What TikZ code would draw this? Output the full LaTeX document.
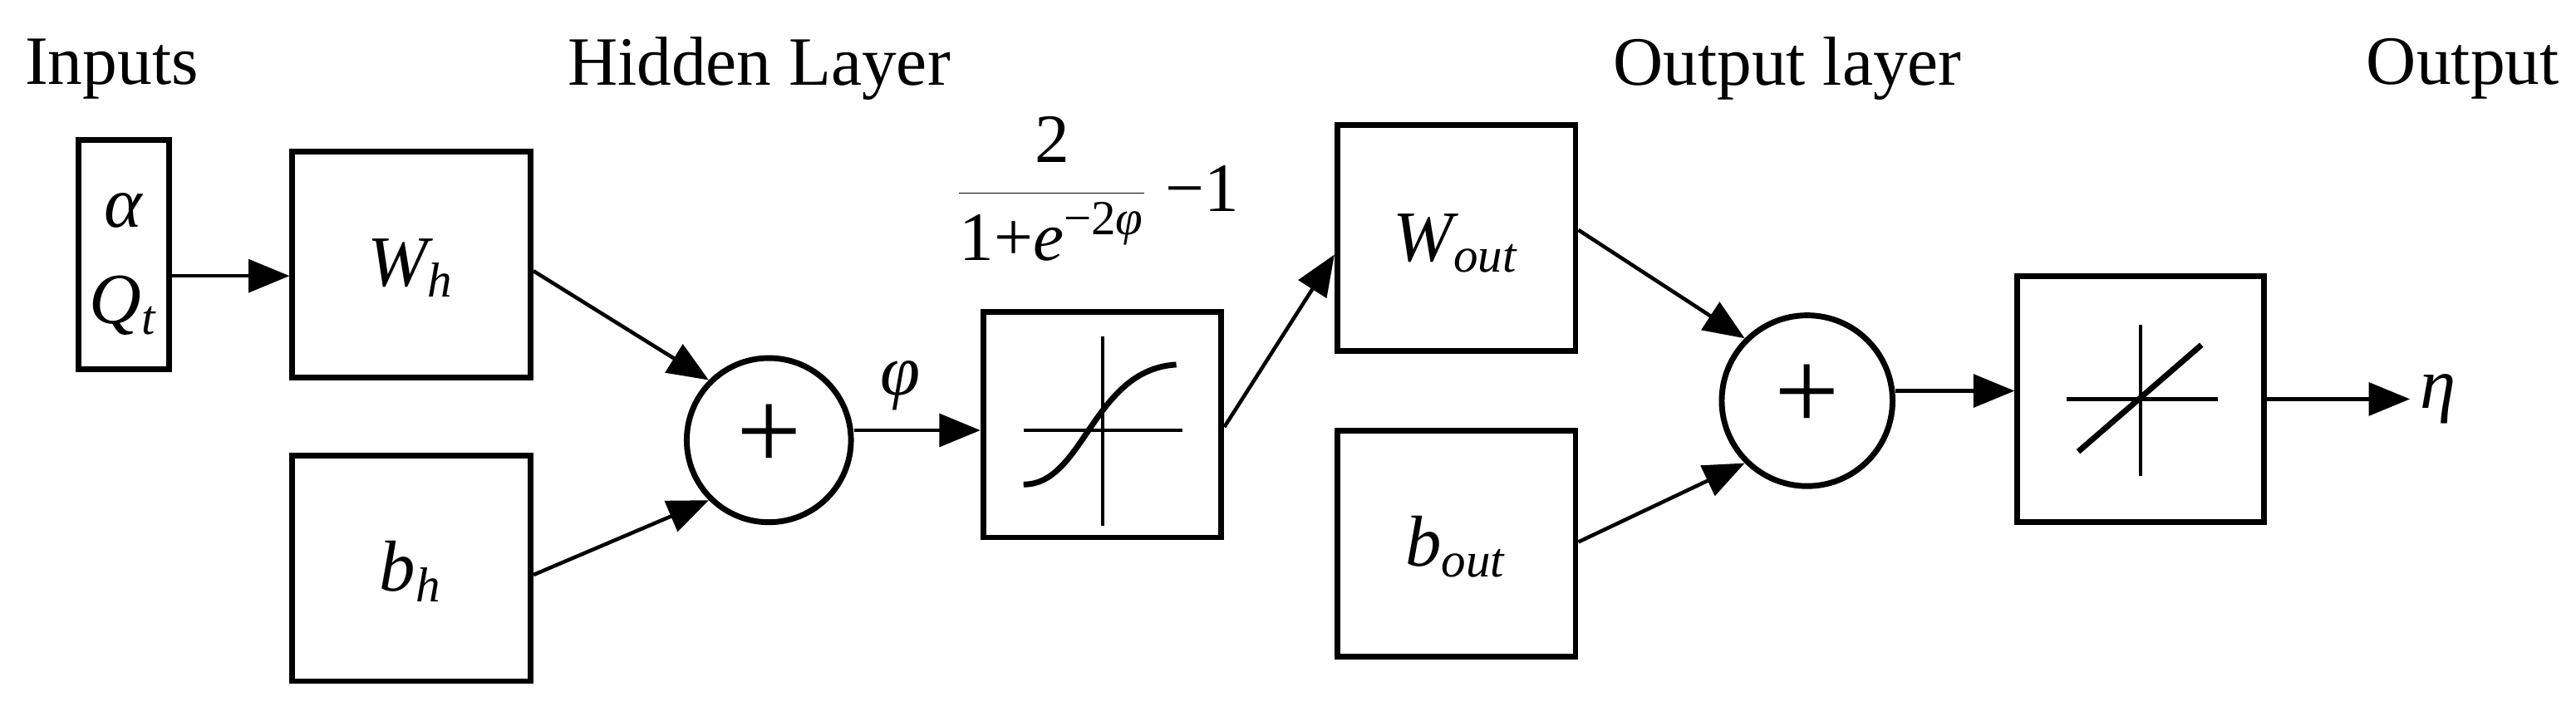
\documentclass[tikz,border=0pt]{standalone}
\usepackage{fontspec}
\setmainfont{Liberation Serif}
\usetikzlibrary{arrows.meta}
\tikzset{
  blk/.style={draw, line width=2pt, minimum width=2.9cm, minimum height=2.75cm},
  sum/.style={draw, circle, line width=2pt, minimum size=2cm, inner sep=0pt},
  arr/.style={line width=1.3pt, -{Triangle[length=0.5cm,width=0.4cm]}},
  lbl/.style={font=\fontsize{24}{28}\selectfont},
  sym/.style={font=\fontsize{25}{28}\selectfont\itshape}
}
\newcommand{\sbs}[1]{\textsubscript{\fontsize{17}{19}\selectfont #1}}
\begin{document}
\begin{tikzpicture}[x=0.02cm,y=-0.02cm]
\useasboundingbox (0,0) rectangle (1568,441.6);
% Titles
\node[lbl] (t-in)  at (68,42)   {Inputs};
\node[lbl] (t-hid) at (462,42)  {Hidden Layer};
\node[lbl] (t-ol)  at (1088,42) {Output layer};
\node[lbl, anchor=east, inner sep=0pt] (t-out) at (1558,42) {Output};

% Blocks
\node[draw, line width=2pt, minimum width=1.1cm, minimum height=2.8cm] (in) at (75.5,155) {};
\node[sym] (alpha) at (75,128) {α};
\node[sym] (qt) at (75,186) {Q\sbs{t}};
\node[blk] (wh) at (250.5,161) {};
\node[sym] (wh-l) at (250,163) {W\sbs{h}};
\node[blk] (bh) at (250.5,346) {};
\node[sym] (bh-l) at (250,348) {b\sbs{h}};
\node[sum] (s1) at (468,268) {};
\node[font=\fontsize{40}{42}\selectfont] (p1) at (468,266) {+};
\node[blk] (tanh) at (671,258.5) {};
\node[blk] (wout) at (886.5,145) {};
\node[sym] (wout-l) at (886,148) {W\sbs{out}};
\node[blk] (bout) at (886.5,331) {};
\node[sym] (bout-l) at (886,333) {b\sbs{out}};
\node[sum, minimum size=2.08cm] (s2) at (1100,244) {};
\node[font=\fontsize{40}{42}\selectfont] (p2) at (1100,242) {+};
\node[blk, minimum width=3cm, minimum height=3cm] (lin) at (1303,243) {};
\node[sym] (eta) at (1484,243) {η};
\node[sym] (phi) at (548,235) {φ};
\node[font=\fontsize{24}{28}\selectfont] (frac) at (668,115)
  {$\displaystyle\frac{\mbox{2}}{\mbox{1+\textit{e}\textsuperscript{\fontsize{17}{19}\selectfont −2\textit{φ}}}}$\mbox{ −1}};

% Transfer functions
\draw[line width=1.2pt] (671,205) -- (671,320) (623,262) -- (720,262);
\draw[line width=2pt] (623,295) .. controls (660,295) and (665,225) .. (716,222);
\draw[line width=1.2pt] (1303,198) -- (1303,290) (1258,243) -- (1350,243);
\draw[line width=2pt] (1265,275) -- (1340,210);

% Connections
\draw[arr] (in.east |- 0,168) -- (wh.west |- 0,168);
\draw[arr] (wh.east |- 0,165) -- (s1.135);
\draw[arr] (bh.east |- 0,350) -- (s1.225);
\draw[arr] (s1.east |- 0,262) -- (tanh.west |- 0,262);
\draw[arr] (tanh.east |- 0,260) -- (wout.west |- 0,155);
\draw[arr] (wout.east |- 0,140) -- (s2.135);
\draw[arr] (bout.east |- 0,330) -- (s2.225);
\draw[arr] (s2.east |- 0,238) -- (lin.west |- 0,238);
\draw[arr] (lin.east) -- (eta.west);
\end{tikzpicture}
\end{document}
